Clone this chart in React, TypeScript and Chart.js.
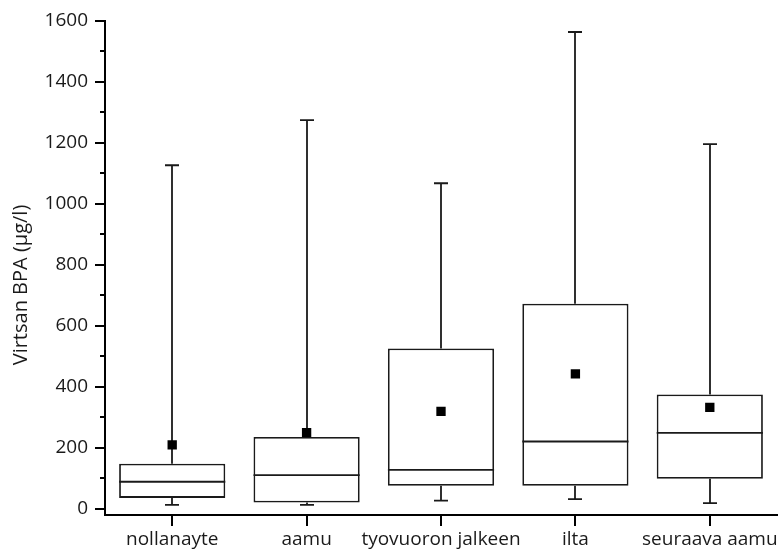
import React, { useEffect, useRef } from 'react';
import { Chart, registerables } from 'chart.js';
Chart.register(...registerables);

const categories = ['nollanayte', 'aamu', 'tyovuoron jalkeen', 'ilta', 'seuraava aamu'];
const whiskerLow = [13, 13, 27, 32, 19];
const q1 = [36, 21, 76, 76, 99];
const median = [89, 111, 128, 221, 249];
const q3 = [148, 236, 526, 673, 375];
const whiskerHigh = [1127, 1275, 1068, 1564, 1196];
const means = [210, 250, 320, 443, 333];
const yTickValues = [0, 100, 200, 300, 400, 500, 600, 700, 800, 900, 1000, 1100, 1200, 1300, 1400, 1500, 1600];
const yTitle = 'Virtsan BPA (\u00b5g/l)';

const FONT = "'Open Sans', 'DejaVu Sans', sans-serif";
const INK = '#1a1a1a';

export default function App() {
  const ref = useRef<HTMLCanvasElement>(null);
  useEffect(() => {
    if (!ref.current) return;
    const boxPlugin = {
      id: 'boxExtras',
      beforeDatasetsDraw(chart: any) {
        const ctx = chart.ctx;
        const x = chart.scales.x;
        const y = chart.scales.y;
        ctx.save();
        ctx.strokeStyle = INK;
        ctx.lineWidth = 1.8;
        categories.forEach((_, i) => {
          const cx = Math.round(x.getPixelForValue(i));
          const hi = y.getPixelForValue(whiskerHigh[i]);
          const lo = y.getPixelForValue(whiskerLow[i]);
          ctx.beginPath();
          ctx.moveTo(cx, y.getPixelForValue(q3[i]));
          ctx.lineTo(cx, hi);
          ctx.moveTo(cx - 7, hi);
          ctx.lineTo(cx + 7, hi);
          ctx.moveTo(cx, y.getPixelForValue(q1[i]));
          ctx.lineTo(cx, lo);
          ctx.moveTo(cx - 7, lo);
          ctx.lineTo(cx + 7, lo);
          ctx.stroke();
        });
        ctx.restore();
      },
      afterDatasetsDraw(chart: any) {
        const ctx = chart.ctx;
        const y = chart.scales.y;
        const meta = chart.getDatasetMeta(1);
        ctx.save();
        ctx.strokeStyle = INK;
        ctx.lineWidth = 1.8;
        meta.data.forEach((el: any, i: number) => {
          const my = y.getPixelForValue(median[i]);
          ctx.beginPath();
          ctx.moveTo(el.x - el.width / 2, my);
          ctx.lineTo(el.x + el.width / 2, my);
          ctx.stroke();
        });
        ctx.restore();
      },
      afterDraw(chart: any) {
        const ctx = chart.ctx;
        const x = chart.scales.x;
        const y = chart.scales.y;
        const area = chart.chartArea;
        ctx.save();
        ctx.strokeStyle = '#000';
        ctx.lineWidth = 2;
        ctx.beginPath();
        yTickValues.forEach((v) => {
          const py = Math.round(y.getPixelForValue(v));
          const len = v % 200 === 0 ? 10 : 5;
          ctx.moveTo(area.left, py);
          ctx.lineTo(area.left - len, py);
        });
        categories.forEach((_, i) => {
          const px = Math.round(x.getPixelForValue(i));
          ctx.moveTo(px, area.bottom);
          ctx.lineTo(px, area.bottom + 11);
        });
        ctx.stroke();
        // y axis title
        ctx.translate(21, 285);
        ctx.rotate(-Math.PI / 2);
        ctx.fillStyle = INK;
        ctx.font = `20px ${FONT}`;
        ctx.textAlign = 'center';
        ctx.textBaseline = 'middle';
        ctx.fillText(yTitle, 0, 0);
        ctx.restore();
      },
    };

    const chart = new Chart(ref.current, {
      type: 'bar',
      data: {
        labels: categories,
        datasets: [
          {
            type: 'line',
            label: 'mean',
            data: means,
            showLine: false,
            pointStyle: 'rect',
            pointRadius: 6.6,
            pointBackgroundColor: '#000',
            pointBorderWidth: 0,
            borderColor: '#000',
            order: 0,
          } as any,
          {
            type: 'bar',
            label: 'box',
            data: categories.map((_, i) => [q1[i], q3[i]]),
            backgroundColor: '#fff',
            borderColor: INK,
            borderWidth: 1.8,
            borderSkipped: false,
            barPercentage: 0.79,
            categoryPercentage: 1,
            order: 1,
          } as any,
        ],
      },
      options: {
        responsive: false,
        animation: false,
        layout: { autoPadding: false, padding: { top: 21, right: 2, left: 0, bottom: 0 } },
        plugins: { legend: { display: false }, tooltip: { enabled: false } },
        scales: {
          x: {
            type: 'category',
            offset: true,
            grid: { display: false, drawTicks: false },
            border: { display: true, color: '#000', width: 2 },
            ticks: { color: INK, font: { family: FONT, size: 19 }, padding: 13, maxRotation: 0, autoSkip: false },
            afterFit: (s: any) => {
              s.height = 36;
              s.paddingLeft = 0;
              s.paddingRight = 0;
            },
          },
          y: {
            type: 'linear',
            min: -20,
            max: 1600,
            grid: { display: false, drawTicks: false },
            border: { display: true, color: '#000', width: 2 },
            afterBuildTicks: (s: any) => { s.ticks = yTickValues.map((v) => ({ value: v })); },
            ticks: {
              color: INK,
              font: { family: FONT, size: 19 },
              padding: 17,
              callback: (v: any) => (Number(v) % 200 === 0 ? String(v) : ''),
            },
            title: { display: false },
            afterFit: (s: any) => {
              s.width = 105;
              s.paddingTop = 0;
              s.paddingBottom = 0;
            },
          },
        },
      },
      plugins: [boxPlugin],
    });
    return () => chart.destroy();
  }, []);
  return (
    <canvas
      ref={ref}
      width={779}
      height={551}
      style={{ position: 'fixed', left: 0, top: 0, display: 'block', background: '#fff' }}
    />
  );
}
